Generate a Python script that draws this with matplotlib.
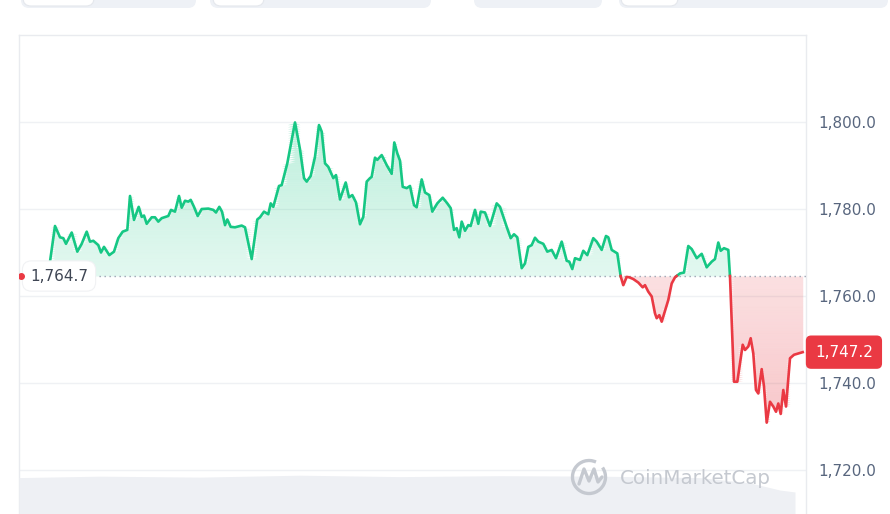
import numpy as np
import matplotlib
matplotlib.use("Agg")
import matplotlib.pyplot as plt
from matplotlib.patches import FancyBboxPatch, Arc
from matplotlib.transforms import blended_transform_factory
from matplotlib.ticker import FuncFormatter

# ---------------- data ----------------
t = [0, 5, 10, 13.3, 16, 21.7, 27.3, 31.7, 36.7, 40, 43.3, 48.3, 51, 54, 59.3, 64, 68.3, 72.7,
     77.3, 80, 84, 88.7, 91.7, 94, 96.7, 101.7, 105, 108.3, 111.7, 118.3, 121, 125, 129, 131.7,
     135, 138.3, 140.7, 144, 147.7, 151.7, 158.3, 163.3, 166, 169.3, 172, 175, 177.3, 180.7, 185,
     191.7, 195, 201.7, 207.3, 210, 214, 218.3, 220.7, 223.3, 229, 231.7, 237.3, 245, 250, 254,
     256.7, 260.7, 265, 269, 271.7, 275, 278.3, 283.3, 286, 290, 295.7, 299, 302.3, 306, 310,
     313.3, 316.7, 320, 321.7, 325, 327.3, 331.7, 336.7, 341.7, 344.3, 347.3, 350, 352.7, 356.7,
     360, 364, 366.7, 371.7, 375, 379.3, 382.3, 387.3, 392.7, 397.3, 400.7, 404, 406.7, 409.3,
     411.7, 415, 418.3, 420.7, 425, 428.3, 430.7, 435, 440, 446.7, 450, 456.7, 460.7, 464, 467.3,
     471.7, 475, 478.3, 481.7, 485, 488.3, 493.3, 497.3, 501.7, 506, 511.7, 516.7, 519.3, 522.3,
     525, 530, 533.3, 537.3, 543.3, 546.7, 551.7, 556, 558.3, 561.7, 567.3, 570.7, 573.3, 576.7,
     579.3, 583.3, 588.3, 592.7, 595, 598.3, 601.7, 605, 606.7, 609.3, 611.7, 616, 618.3, 621.7,
     625, 630, 634, 638.3, 641.7, 646.7, 651.7, 656.7, 661.7, 665, 668.3, 670.7, 674, 678.3, 680,
     684, 687.3, 692.7, 695, 698.3, 700.7, 703.3, 706, 708.3, 711.7, 714, 716.7, 720, 723.3, 726,
     728.3, 730.7, 733.3, 736, 740, 744, 748.3, 752.7]
price = [1768.0, 1776.2, 1773.6, 1773.4, 1772.1, 1774.7, 1770.3, 1772.1, 1774.9, 1772.6, 1772.8,
         1771.8, 1770.1, 1771.4, 1769.5, 1770.3, 1773.4, 1774.9, 1775.3, 1783.1, 1777.6, 1780.6,
         1778.3, 1778.6, 1776.7, 1778.2, 1778.2, 1777.2, 1778.0, 1778.5, 1779.9, 1779.5, 1783.1,
         1780.4, 1782.0, 1781.8, 1782.2, 1780.6, 1778.5, 1780.1, 1780.2, 1779.9, 1779.3, 1780.6,
         1779.5, 1776.4, 1777.7, 1776.0, 1775.9, 1776.3, 1775.9, 1768.6, 1777.7, 1778.2, 1779.5,
         1778.9, 1781.4, 1780.6, 1785.4, 1785.6, 1790.6, 1800.0, 1793.8, 1787.2, 1786.4, 1787.7,
         1792.1, 1799.4, 1797.9, 1790.6, 1789.8, 1787.2, 1787.9, 1782.3, 1786.2, 1782.8, 1783.3,
         1781.6, 1776.6, 1778.3, 1786.4, 1787.2, 1787.5, 1791.9, 1791.4, 1792.5, 1790.2, 1788.2,
         1795.4, 1792.9, 1791.2, 1785.2, 1784.9, 1785.4, 1781.0, 1780.5, 1786.9, 1783.9, 1783.3,
         1779.5, 1781.4, 1782.7, 1781.4, 1780.3, 1775.3, 1775.7, 1773.6, 1777.2, 1775.1, 1776.4,
         1776.2, 1779.9, 1776.7, 1779.5, 1779.3, 1776.2, 1781.4, 1780.6, 1776.0, 1773.4, 1774.3,
         1773.6, 1766.5, 1767.6, 1771.4, 1771.8, 1773.5, 1772.6, 1772.1, 1770.3, 1770.7, 1768.8,
         1772.6, 1768.2, 1768.0, 1766.3, 1768.8, 1768.4, 1770.5, 1769.5, 1773.4, 1772.6, 1770.7,
         1773.9, 1773.6, 1770.7, 1769.9, 1764.6, 1762.6, 1764.5, 1764.4, 1764.0, 1763.2, 1762.1,
         1762.6, 1761.1, 1760.0, 1756.1, 1755.0, 1755.7, 1754.2, 1757.5, 1759.2, 1763.0, 1764.4,
         1765.3, 1765.5, 1771.6, 1770.9, 1768.8, 1769.8, 1766.7, 1768.0, 1768.6, 1772.4, 1770.5,
         1771.1, 1770.7, 1764.6, 1740.4, 1740.4, 1748.9, 1747.7, 1748.5, 1750.4, 1746.9, 1738.5,
         1737.7, 1743.3, 1739.3, 1731.0, 1735.8, 1734.7, 1733.5, 1735.4, 1733.0, 1738.5, 1734.7,
         1745.8, 1746.6, 1746.9, 1747.2]
base_price = 1764.7
last_price = 1747.2
yticks = [1720, 1740, 1760, 1780, 1800]
vol_t = [-31, 50, 150, 250, 350, 450, 550, 650, 700, 730, 745]
vol = [7.6, 7.9, 7.7, 8.1, 7.8, 8.0, 7.9, 7.6, 6.5, 5.0, 4.6]

GREEN = "#16c784"
RED = "#ea3943"

# ---------------- figure ----------------
W, H = 890, 514
fig = plt.figure(figsize=(W / 100, H / 100), dpi=100)
fig.patch.set_facecolor("white")
ax = fig.add_axes([19 / W, 0, (806 - 19) / W, (H - 35) / H])
XMIN, XMAX = -31, 756
YMIN, YMAX = 1710.0, 1820.1

t = np.array(t, float)
v = np.array(price, float)

# insert baseline crossings
tt, vv = [t[0]], [v[0]]
for i in range(1, len(t)):
    a, b = v[i - 1] - base_price, v[i] - base_price
    if a * b < 0:
        tc = t[i - 1] + (t[i] - t[i - 1]) * a / (a - b)
        tt.append(tc)
        vv.append(base_price)
    tt.append(t[i])
    vv.append(v[i])
tt = np.array(tt)
vv = np.array(vv)


def banded_fill(color, a_near, a_far, y_far, n=70):
    """vertical gradient between the baseline and the curve, built from thin bands"""
    levels = np.linspace(base_price, y_far, n + 1)
    for k in range(n):
        y0, y1 = levels[k], levels[k + 1]
        alpha = a_near + (a_far - a_near) * (k + 0.5) / n
        if y_far > base_price:
            top = np.clip(vv, y0, y1)
            ax.fill_between(tt, y0, top, color=color, alpha=alpha, lw=0,
                            antialiased=False, zorder=1)
        else:
            bot = np.clip(vv, y1, y0)
            ax.fill_between(tt, bot, y0, color=color, alpha=alpha, lw=0,
                            antialiased=False, zorder=1)


banded_fill(GREEN, 0.12, 0.28, 1800)
banded_fill(RED, 0.08, 0.22, 1731)
# plain base tint under the red part
ax.fill_between(tt, np.minimum(vv, base_price), base_price, color=RED, alpha=0.08, lw=0,
                zorder=1)

g = np.where(vv >= base_price - 1e-9, vv, np.nan)
r = np.where(vv <= base_price + 1e-9, vv, np.nan)
ax.plot(tt, g, color=GREEN, lw=1.9, zorder=4, solid_joinstyle="round")
ax.plot(tt, r, color=RED, lw=1.9, zorder=4, solid_joinstyle="round")

ax.axhline(base_price, color="#9aa3b2", lw=1.0, ls=(0, (1, 2.6)), zorder=3)

ax.set_xlim(XMIN, XMAX)
ax.set_ylim(YMIN, YMAX)
ax.set_yticks(yticks)
ax.set_xticks([])
ax.grid(axis="y", color="#eff1f4", lw=1.0, zorder=0)
ax.set_axisbelow(True)
for side in ["left", "top", "right"]:
    ax.spines[side].set_color("#e9ebef")
    ax.spines[side].set_linewidth(1.0)
ax.spines["bottom"].set_visible(False)

# volume area
ax2 = ax.twinx()
ax2.fill_between(vol_t, 0, vol, color="#eef0f4", lw=0, zorder=0)
ax2.set_ylim(0, 100)
ax2.set_xlim(XMIN, XMAX)
ax2.axis("off")

ax.yaxis.tick_right()
ax.yaxis.set_major_formatter(FuncFormatter(lambda x, p: f"{x:,.1f}"))
ax.tick_params(axis="y", length=0, pad=9, labelsize=11, labelcolor="#58667e")

# labels
trans = blended_transform_factory(ax.transAxes, ax.transData)
ax2.text(1.0 + 9 / 787, last_price, f"{last_price:,.1f}", transform=trans, ha="left",
         va="center", fontsize=11, color="white", zorder=10, clip_on=False,
         bbox=dict(boxstyle="round,pad=0.6,rounding_size=0.35", fc=RED, ec="none"))
ax2.text(11 / 787, base_price, f"{base_price:,.1f}", transform=trans, ha="left",
         va="center", fontsize=11, color="#3f4654", zorder=10,
         bbox=dict(boxstyle="round,pad=0.5,rounding_size=0.6", fc="white", ec="#f1f2f4", lw=0.8))
ax2.plot([0.003], [base_price], "o", color=RED, ms=4, zorder=11, clip_on=True, transform=trans)

# overlay decorations (pixel coordinates)
ov = fig.add_axes([0, 0, 1, 1], zorder=5)
ov.set_xlim(0, W)
ov.set_ylim(H, 0)
ov.axis("off")
ov.patch.set_visible(False)
for x0, x1 in [(21, 196), (210, 431), (474, 602), (619, 888)]:
    ov.add_patch(FancyBboxPatch((x0, -20), x1 - x0, 28, boxstyle="round,pad=0,rounding_size=8",
                                fc="#eef1f6", ec="none"))
for x0, x1 in [(23, 94), (213, 264), (621, 678)]:
    ov.add_patch(FancyBboxPatch((x0, -20), x1 - x0, 26, boxstyle="round,pad=0,rounding_size=8",
                                fc="white", ec="#e4e7ec", lw=0.8))

wm = "#c5c9d0"
ov.add_patch(Arc((589, 477), 33, 33, theta1=-35, theta2=295, color=wm, lw=2.4))
ov.plot([579, 584, 589, 594, 598, 602], [484, 469, 481, 469, 482, 477], color=wm, lw=2.4,
        solid_joinstyle="round", solid_capstyle="round")
ov.text(620, 478, "CoinMarketCap", fontsize=14.3, color=wm, ha="left", va="center")

fig.savefig("out.png", dpi=100, facecolor="white")
